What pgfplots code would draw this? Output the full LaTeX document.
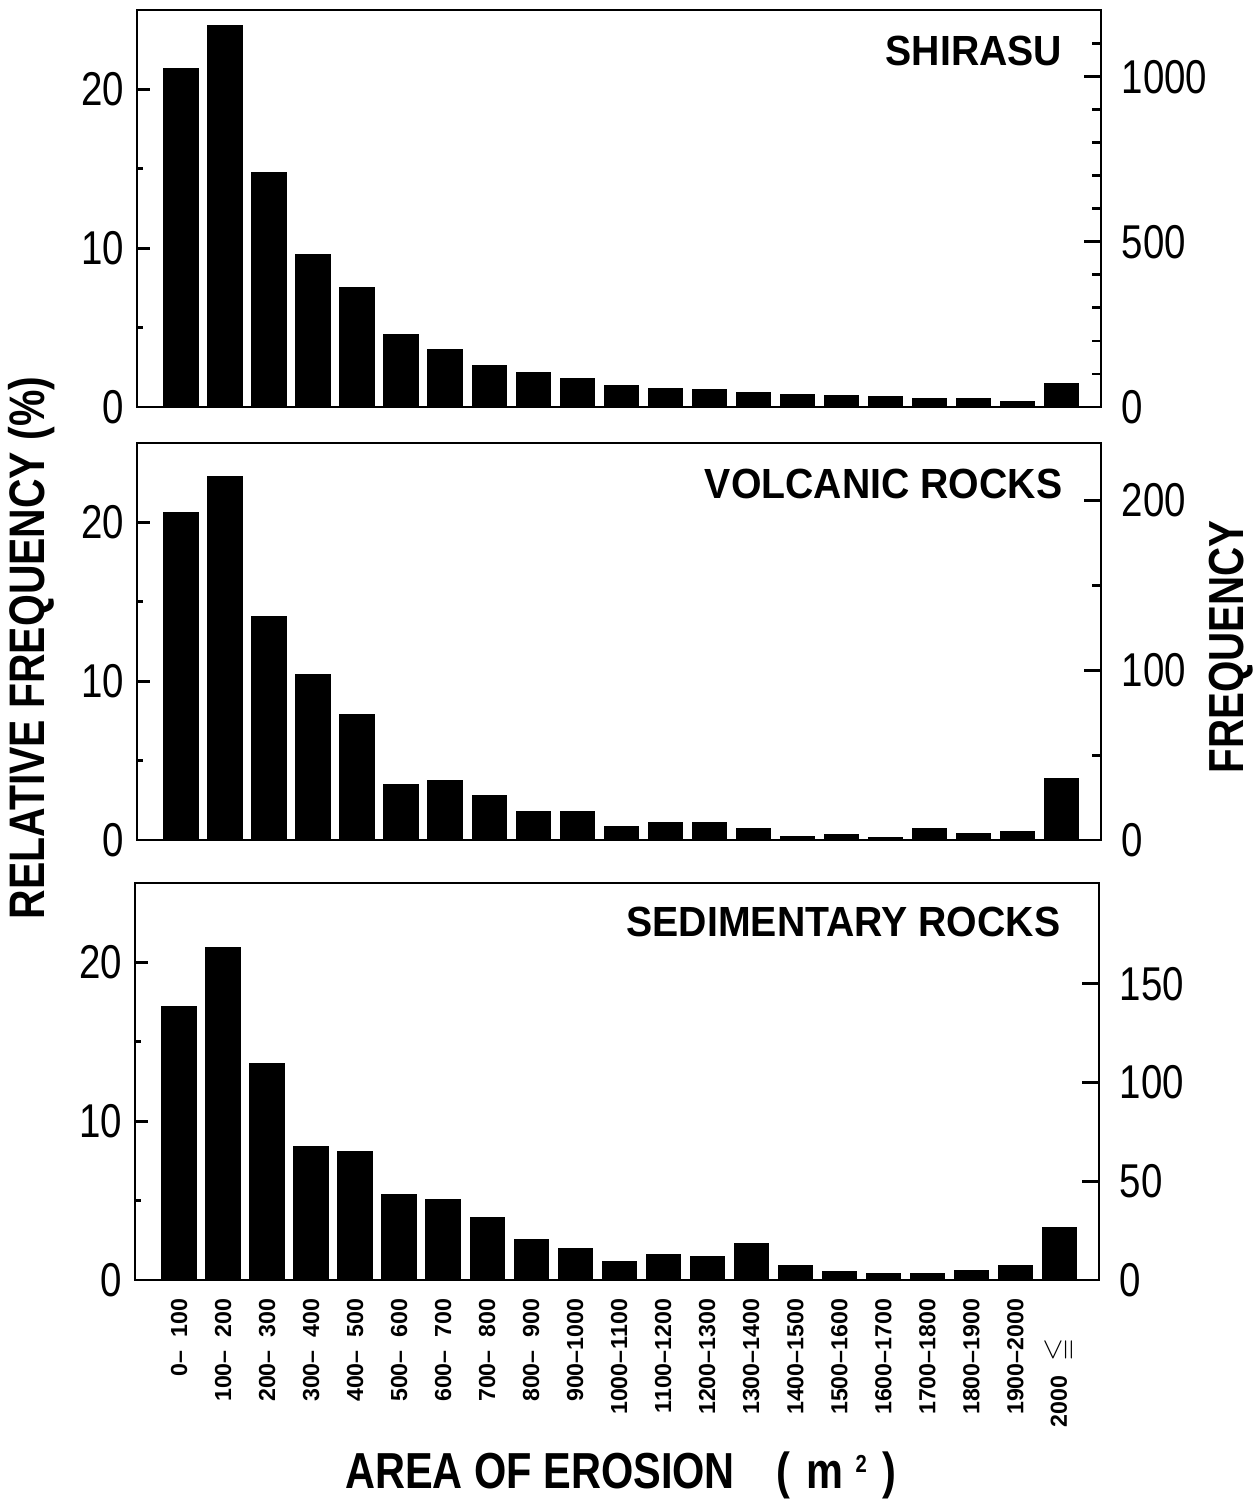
\documentclass[border=0pt]{standalone}
\usepackage{amssymb}
\usepackage{fontspec}
\setmainfont{Liberation Sans}
\newfontfamily\tickfont[FakeStretch=0.81]{Liberation Sans}
\newfontfamily\labfont[FakeStretch=0.82]{Liberation Sans}
\newfontfamily\titlefont[FakeStretch=0.93]{Liberation Sans}
\usepackage{pgfplots}
\usepackage{pgfplotstable}
\pgfplotsset{compat=1.18}

% bar heights, relative frequency (%)
\pgfplotstableread{
x shirasu volcanic sedimentary
0  21.30 20.60 17.20
1  24.00 22.85 20.90
2  14.78 14.04 13.65
3   9.62 10.43  8.40
4   7.54  7.90  8.07
5   4.57  3.46  5.40
6   3.58  3.72  5.04
7   2.63  2.79  3.93
8   2.17  1.77  2.56
9   1.77  1.77  1.97
10  1.37  0.84  1.13
11  1.16  1.06  1.62
12  1.09  1.06  1.45
13  0.90  0.74  2.31
14  0.80  0.21  0.92
15  0.70  0.34  0.53
16  0.67  0.13  0.40
17  0.53  0.74  0.42
18  0.53  0.42  0.60
19  0.32  0.51  0.92
20  1.47  3.84  3.32
}\erosion

\newcommand\rg[2]{#1--\makebox[2.224em][r]{#2}}

\pgfplotsset{
  panel/.style={
    scale only axis, width=96.4mm, height=39.7mm,
    xmin=-1, xmax=20.9, ymin=0,
    axis line style={line width=0.8pt},
    tick style={line width=0.8pt, black},
    tick align=inside,
    /pgf/number format/assume math mode=true,
    /pgf/number format/set thousands separator={},
  },
  leftax/.style={
    panel, ymax=25,
    ytick={0,10,20}, minor tick num=1,
    ytick pos=left,
    major tick length=1.3mm, minor tick length=0.6mm,
    xtick style={draw=none},
    yticklabel style={font=\tickfont\fontsize{13.5}{14}\selectfont, inner sep=0pt, xshift=-1.2mm},
  },
  rightax/.style={
    panel, axis x line=none, axis y line*=right,
    major tick length=1.7mm, minor tick length=0.9mm,
    yticklabel style={font=\tickfont\fontsize{13.5}{14}\selectfont, inner sep=0pt, xshift=2mm},
  },
  bars/.style={ybar, fill=black, draw=black, bar width=0.77},
}

\begin{document}
\begin{tikzpicture}
\path[use as bounding box] (0,0) rectangle (125.6mm,149.9mm);

% SHIRASU
\begin{axis}[leftax, at={(13.7mm,109.2mm)}, anchor=south west, xtick=\empty]
  \addplot[bars] table[x=x, y=shirasu] {\erosion};
  \node[anchor=east, inner sep=0pt, font=\titlefont\bfseries\fontsize{12}{12}\selectfont]
    at (rel axis cs:1,1) [xshift=-3.8mm, yshift=-4.1mm] {SHIRASU};
\end{axis}
\begin{axis}[rightax, at={(13.7mm,109.2mm)}, anchor=south west,
  ymax=1202, ytick={0,500,1000}, minor ytick={100,200,300,400,600,700,800,900,1100}]
\end{axis}

% VOLCANIC ROCKS
\begin{axis}[leftax, at={(13.7mm,65.9mm)}, anchor=south west, xtick=\empty]
  \addplot[bars] table[x=x, y=volcanic] {\erosion};
  \node[anchor=east, inner sep=0pt, font=\titlefont\bfseries\fontsize{12}{12}\selectfont]
    at (rel axis cs:1,1) [xshift=-3.8mm, yshift=-4.1mm] {VOLCANIC ROCKS};
\end{axis}
\begin{axis}[rightax, at={(13.7mm,65.9mm)}, anchor=south west,
  ymax=234, ytick={0,100,200}, minor ytick={50,150}]
\end{axis}

% SEDIMENTARY ROCKS
\begin{axis}[leftax, at={(13.5mm,21.9mm)}, anchor=south west,
  xtick=data,
  xticklabels={\rg{0}{100},\rg{100}{200},\rg{200}{300},\rg{300}{400},\rg{400}{500},
    \rg{500}{600},\rg{600}{700},\rg{700}{800},\rg{800}{900},\rg{900}{1000},
    \rg{1000}{1100},\rg{1100}{1200},\rg{1200}{1300},\rg{1300}{1400},\rg{1400}{1500},
    \rg{1500}{1600},\rg{1600}{1700},\rg{1700}{1800},\rg{1800}{1900},\rg{1900}{2000},
    {2000\kern1.1em\makebox[2.224em][l]{\kern-0.5em{\fontsize{8.5}{8}\selectfont\boldmath$\leqq$}}}},
  xticklabel shift=1.8mm,
  xticklabel style={rotate=90, anchor=east, inner sep=0pt,
    font=\bfseries\fontsize{6.6}{7}\selectfont},
]
  \addplot[bars] table[x=x, y=sedimentary] {\erosion};
  \node[anchor=east, inner sep=0pt, font=\titlefont\bfseries\fontsize{12}{12}\selectfont]
    at (rel axis cs:1,1) [xshift=-3.8mm, yshift=-3.9mm] {SEDIMENTARY ROCKS};
\end{axis}
\begin{axis}[rightax, at={(13.5mm,21.9mm)}, anchor=south west,
  ymax=201, ytick={0,50,100,150}]
\end{axis}

% axis titles
\node[rotate=90, inner sep=0pt, font=\labfont\bfseries\fontsize{14.2}{14}\selectfont]
  at (3.2mm,85.1mm) {RELATIVE FREQUENCY (\%)};
\node[rotate=90, inner sep=0pt, font=\labfont\bfseries\fontsize{14}{14}\selectfont]
  at (123.1mm,85.2mm) {FREQUENCY};
\node[inner sep=0pt, font=\labfont\bfseries\fontsize{14.4}{14}\selectfont]
  at (62.1mm,2.4mm) {AREA OF EROSION\hspace{4.2mm}(\hspace{1.6mm}m\hspace{1.2mm}{\fontsize{7}{7}\selectfont\raisebox{1.6mm}{2}}\hspace{1.6mm})};
\end{tikzpicture}
\end{document}
